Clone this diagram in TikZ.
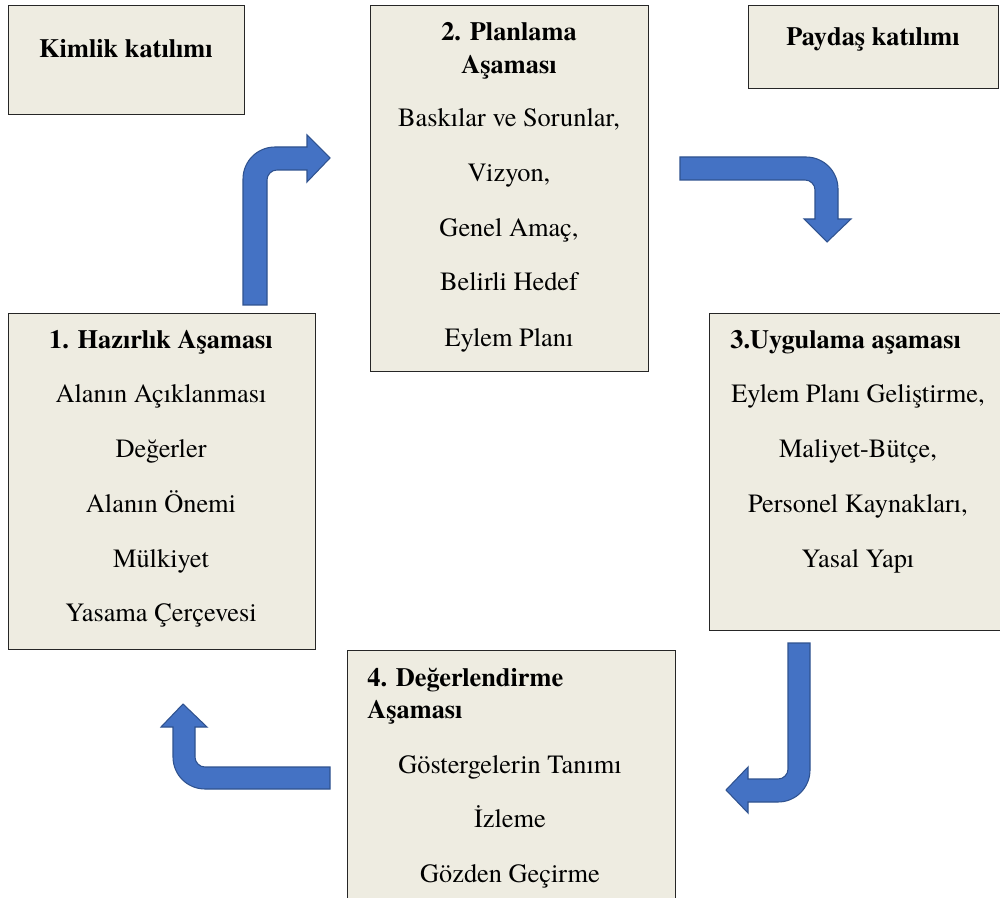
\documentclass[tikz,border=0pt]{standalone}
\usepackage{fontspec}
\setmainfont{texgyretermes}[
  Extension=.otf,
  UprightFont=*-regular,
  BoldFont=*-bold,
  ItalicFont=*-italic,
  BoldItalicFont=*-bolditalic]
\usetikzlibrary{positioning}
\definecolor{boxfill}{HTML}{EEECE1}
\definecolor{arrowfill}{HTML}{4472C4}
\definecolor{arrowline}{HTML}{2F528F}

\begin{document}
\begin{tikzpicture}[
  x=0.02cm, y=-0.02cm,
  box/.style={draw=black!85, line width=0.7pt, fill=boxfill, anchor=north west, inner sep=0pt},
  txt/.style={font=\fontsize{15}{18}\selectfont, anchor=base, inner sep=0pt},
  ttl/.style={txt, font=\fontsize{15}{18}\selectfont\bfseries},
  bentarrow/.style={fill=arrowfill, draw=arrowline, line width=0.6pt, line join=miter}
]
% 1 unit = 1 pixel of the 1000 x 898 page
\def\pw{0.02}
\fill[white] (0,0) rectangle (1000,898);
\useasboundingbox (0,0) rectangle (1000,898);
\clip (0,0) rectangle (1000,898);

% Participation boxes
\node[box, minimum width=236*\pw cm, minimum height=109*\pw cm] (kimlik) at (8,5) {};
\node[ttl] (kimlikT) at (126,58) {Kimlik katılımı};
\node[box, minimum width=250*\pw cm, minimum height=83*\pw cm] (paydas) at (748,5) {};
\node[ttl] (paydasT) at (873,46) {Paydaş katılımı};

% 2. Planlama
\node[box, minimum width=278*\pw cm, minimum height=366*\pw cm] (plan) at (370,5) {};
\node[ttl] (planT1) at (509,41) {2. Planlama};
\node[ttl] (planT2) at (509,74) {Aşaması};
\node[txt] (plan1) at (509,127) {Baskılar ve Sorunlar,};
\node[txt] (plan2) at (509,182) {Vizyon,};
\node[txt] (plan3) at (509,237) {Genel Amaç,};
\node[txt] (plan4) at (509,291) {Belirli Hedef};
\node[txt] (plan5) at (509,346) {Eylem Planı};

% 1. Hazirlik
\node[box, minimum width=307*\pw cm, minimum height=336*\pw cm] (hazir) at (8,313) {};
\node[ttl] (hazirT) at (161,348) {1. Hazırlık Aşaması};
\node[txt] (hazir1) at (161,402) {Alanın Açıklanması};
\node[txt] (hazir2) at (161,457) {Değerler};
\node[txt] (hazir3) at (161,512) {Alanın Önemi};
\node[txt] (hazir4) at (161,567) {Mülkiyet};
\node[txt] (hazir5) at (161,621) {Yasama Çerçevesi};

% 3. Uygulama
\node[box, minimum width=298*\pw cm, minimum height=317*\pw cm] (uygul) at (709,313) {};
\node[ttl, anchor=base west] (uygulT) at (730,348) {3.Uygulama aşaması};
\node[txt] (uygul1) at (858,402) {Eylem Planı Geliştirme,};
\node[txt] (uygul2) at (858,457) {Maliyet-Bütçe,};
\node[txt] (uygul3) at (858,512) {Personel Kaynakları,};
\node[txt] (uygul4) at (858,567) {Yasal Yapı};

% 4. Degerlendirme
\node[box, minimum width=328*\pw cm, minimum height=260*\pw cm] (deger) at (347,650) {};
\node[ttl, anchor=base west] (degerT1) at (367,686) {4. Değerlendirme};
\node[ttl, anchor=base west] (degerT2) at (367,718) {Aşaması};
\node[txt] (deger1) at (510,773) {Göstergelerin Tanımı};
\node[txt] (deger2) at (510,827) {İzleme};
\node[txt] (deger3) at (510,882) {Gözden Geçirme};

% Bent block arrows
\draw[bentarrow] (243,305) -- (243,179) .. controls (243,161.3) and (257.3,147) .. (275,147)
  -- (307,147) -- (307,135) -- (330,158) -- (307,182) -- (307,170) -- (277,170)
  .. controls (271.5,170) and (267,174.5) .. (267,180) -- (267,305) -- cycle;
\draw[bentarrow] (680,157) -- (806,157) .. controls (823.7,157) and (838,171.3) .. (838,189)
  -- (838,219) -- (851,219) -- (827,242) -- (804,219) -- (815,219) -- (815,190)
  .. controls (815,184.5) and (810.5,180) .. (805,180) -- (680,180) -- cycle;
\draw[bentarrow] (788,643) -- (810,643) -- (810,770) .. controls (810,787.7) and (795.7,802) .. (778,802)
  -- (748,802) -- (748,813) -- (726,790) -- (748,767) -- (748,779) -- (778,779)
  .. controls (783.5,779) and (788,774.5) .. (788,769) -- cycle;
\draw[bentarrow] (330,767) -- (330,789) -- (205,789) .. controls (187.3,789) and (173,774.7) .. (173,757)
  -- (173,727) -- (161,727) -- (183,704) -- (207,727) -- (195,727) -- (195,757)
  .. controls (195,762.5) and (199.5,767) .. (205,767) -- cycle;
\end{tikzpicture}
\end{document}
